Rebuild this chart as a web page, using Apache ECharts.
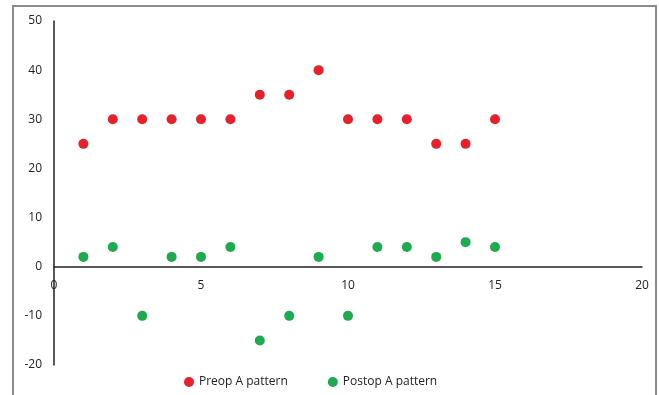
<!DOCTYPE html>
<html>
<head>
<meta charset="utf-8">
<script src="https://cdn.jsdelivr.net/npm/echarts@6/dist/echarts.min.js"></script>
<style>html,body{margin:0;padding:0;background:#fff}#c{width:659px;height:395px}</style>
</head>
<body>
<div id="c"></div>
<script>
var xValues = [1,2,3,4,5,6,7,8,9,10,11,12,13,14,15];
var preopA = [25,30,30,30,30,30,35,35,40,30,30,30,25,25,30];
var postopA = [2,4,-10,2,2,4,-15,-10,2,-10,4,4,2,5,4];
var seriesNames = ['Preop A pattern','Postop A pattern'];

function pairs(ys){ return xValues.map(function(x,i){ return [x, ys[i]]; }); }

var chart = echarts.init(document.getElementById('c'));
var font = 'Open Sans';
chart.setOption({
  animation: false,
  textStyle: {fontFamily: font},
  graphic: [{
    type: 'polyline',
    shape: {points: [[13, 400], [13, 6], [656, 6], [656, 400]]},
    style: {stroke: '#8c8c8c', lineWidth: 2, fill: 'none'},
    silent: true
  }],
  grid: {left: 54, right: 17, top: 21, bottom: 30},
  xAxis: {
    type: 'value', min: 0, max: 20, interval: 5,
    axisLine: {onZero: true, lineStyle: {color: '#222', width: 1.5}},
    axisTick: {show: false},
    splitLine: {show: false},
    axisLabel: {color: '#222', fontSize: 12, margin: -85, fontFamily: font}
  },
  yAxis: {
    type: 'value', min: -20, max: 50, interval: 10,
    axisLine: {show: true, onZero: false, lineStyle: {color: '#222', width: 1.5}},
    axisTick: {show: false},
    splitLine: {show: false},
    axisLabel: {color: '#222', fontSize: 12, margin: 12, fontFamily: font}
  },
  legend: {
    left: 179, top: 371, itemGap: 40, itemWidth: 10, itemHeight: 10,
    icon: 'circle',
    textStyle: {color: '#222', fontSize: 12, fontFamily: font},
    data: seriesNames
  },
  series: [
    {name: seriesNames[0], type: 'scatter', symbolSize: 10, itemStyle: {color: '#e8202a', opacity: 1}, data: pairs(preopA)},
    {name: seriesNames[1], type: 'scatter', symbolSize: 10, itemStyle: {color: '#1eaa4e', opacity: 1}, data: pairs(postopA)}
  ]
});
</script>
</body>
</html>
